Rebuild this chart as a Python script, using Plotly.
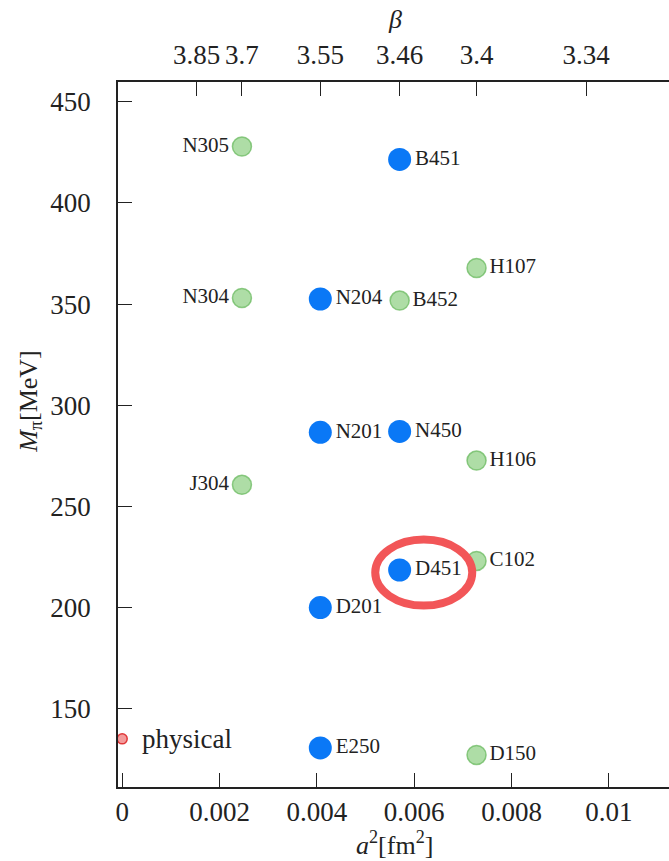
import plotly.graph_objects as go

# Lattice spacing squared (fm^2) for each gauge coupling beta
beta_values = ["3.85", "3.7", "3.55", "3.46", "3.4", "3.34"]
a2_of_beta = [0.00153, 0.00246, 0.00407, 0.00570, 0.00728, 0.00953]

# Ensembles used in this analysis (blue)
used_names = ["N204", "N201", "D201", "E250", "B451", "N450", "D451"]
used_beta = ["3.55", "3.55", "3.55", "3.55", "3.46", "3.46", "3.46"]
used_mpi = [352.5, 286.6, 199.9, 130.5, 421.5, 287.0, 218.5]

# Other available ensembles (green)
other_names = ["N305", "N304", "J304", "B452", "H107", "H106", "C102", "D150"]
other_beta = ["3.7", "3.7", "3.7", "3.46", "3.4", "3.4", "3.4", "3.4"]
other_mpi = [427.9, 353.0, 260.6, 351.7, 367.8, 272.6, 223.0, 127.0]
other_pos = ["middle left", "middle left", "middle left", "middle right",
             "middle right", "middle right", "middle right", "middle right"]

# Physical point
phys_a2 = [0.0]
phys_mpi = [135.0]

# Ensemble singled out with a ring
highlight = "D451"

x_ticks = [0, 0.002, 0.004, 0.006, 0.008, 0.01]
x_ticktext = ["0", "0.002", "0.004", "0.006", "0.008", "0.01"]
y_ticks = [150, 200, 250, 300, 350, 400, 450]

a2_map = dict(zip(beta_values, a2_of_beta))
used_a2 = [a2_map[b] for b in used_beta]
other_a2 = [a2_map[b] for b in other_beta]

FONT = "Liberation Serif"
INK = "#222222"
X_RANGE = [-0.0000863, 0.011234]
Y_RANGE = [111.2, 459.8]

fig = go.Figure()

fig.add_trace(go.Scatter(
    x=other_a2, y=other_mpi, mode="markers+text", text=other_names,
    textposition=other_pos, cliponaxis=False,
    textfont=dict(family=FONT, size=21, color=INK),
    marker=dict(size=19, color="rgba(125,200,112,0.62)",
                line=dict(color="rgba(105,185,95,0.75)", width=1.5)),
    showlegend=False, hoverinfo="skip"))

fig.add_trace(go.Scatter(
    x=used_a2, y=used_mpi, mode="markers+text", text=used_names,
    textposition="middle right", cliponaxis=False,
    textfont=dict(family=FONT, size=21, color=INK),
    marker=dict(size=23, color="#0a78f6", line=dict(width=0)),
    showlegend=False, hoverinfo="skip"))

fig.add_trace(go.Scatter(
    x=phys_a2, y=phys_mpi, mode="markers", cliponaxis=False,
    marker=dict(size=10, color="rgba(240,130,130,0.8)",
                line=dict(color="#e0383a", width=1.5)),
    showlegend=False, hoverinfo="skip"))

# invisible trace carrying the top beta axis
fig.add_trace(go.Scatter(x=a2_of_beta, y=[Y_RANGE[0] - 100] * len(a2_of_beta),
                         xaxis="x2", mode="markers", marker=dict(opacity=0),
                         showlegend=False, hoverinfo="skip"))

fig.add_annotation(x=phys_a2[0], y=phys_mpi[0], text="physical", showarrow=False,
                   xanchor="left", yanchor="middle", xshift=18,
                   font=dict(family=FONT, size=27, color=INK))

# ring around the highlighted ensemble
hi = used_names.index(highlight)
fig.add_shape(type="circle", xref="x", yref="y",
              xsizemode="pixel", ysizemode="pixel",
              xanchor=used_a2[hi], yanchor=used_mpi[hi],
              x0=-24.4, x1=72.6, y0=-35.6, y1=30.4,
              line=dict(color="#f25658", width=8))

axis_common = dict(showgrid=False, zeroline=False, showline=True,
                   linecolor=INK, linewidth=1.5, ticks="inside",
                   ticklen=14, tickwidth=1.3, tickcolor=INK,
                   tickfont=dict(family=FONT, size=27, color=INK))

fig.update_layout(
    width=669, height=861,
    margin=dict(l=118, r=0, t=82, b=74),
    paper_bgcolor="white", plot_bgcolor="white",
    xaxis=dict(range=X_RANGE, tickvals=x_ticks, ticktext=x_ticktext,
               ticklabelstandoff=0, **axis_common),
    xaxis2=dict(range=X_RANGE, overlaying="x", side="top",
                tickvals=a2_of_beta, ticktext=beta_values,
                ticklabelstandoff=5, **axis_common),
    yaxis=dict(range=Y_RANGE, tickvals=y_ticks, ticklabelstandoff=20,
               **axis_common),
)

fig.add_annotation(xref="paper", yref="paper", x=0.5027, y=-0.08,
                   text="<i>a</i><sup>2</sup>[fm<sup>2</sup>]", showarrow=False,
                   xanchor="center", yanchor="middle",
                   font=dict(family=FONT, size=26, color=INK))
fig.add_annotation(xref="paper", yref="paper", x=0.5027, y=1.088,
                   text="<i>β</i>", showarrow=False,
                   xanchor="center", yanchor="middle",
                   font=dict(family=FONT, size=26, color=INK))
fig.add_annotation(xref="paper", yref="paper", x=-0.16, y=0.5475,
                   text="<i>M</i><sub>π</sub>[MeV]", showarrow=False, textangle=-90,
                   xanchor="center", yanchor="middle",
                   font=dict(family=FONT, size=26, color=INK))

fig.write_html("out.html")
